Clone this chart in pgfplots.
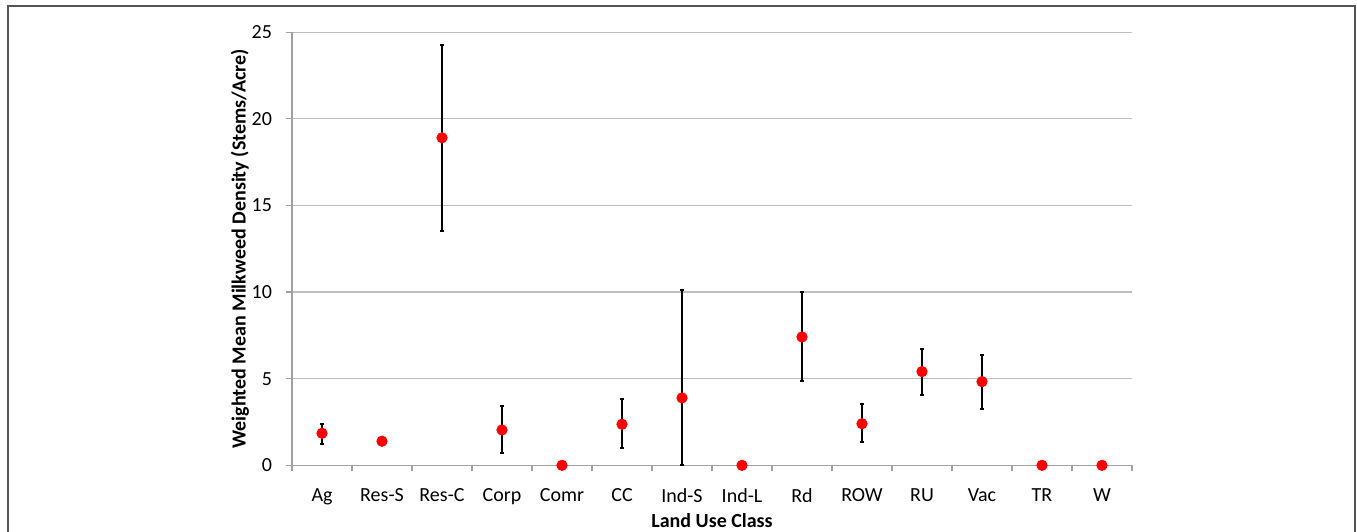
\documentclass[border=0pt]{standalone}
\usepackage{pgfplots}
\pgfplotsset{compat=1.18}
\usepackage{fontspec}
\setmainfont{Carlito}
\definecolor{gridgray}{RGB}{190,190,190}
\definecolor{axgray}{RGB}{160,160,160}
\definecolor{framegray}{RGB}{85,85,85}
\begin{document}
\fontsize{10bp}{12bp}\selectfont
\begin{tikzpicture}
\useasboundingbox (0,0) rectangle (678.5bp,266bp);
\draw[framegray, line width=0.8bp] (4bp,-5bp) -- (4bp,263bp) -- (677.5bp,263bp) -- (677.5bp,-5bp);
\begin{axis}[
  at={(146bp,33.35bp)}, anchor=south west,
  scale only axis, width=420bp, height=216.5bp,
  xmin=-0.5, xmax=13.5, ymin=0, ymax=25,
  axis x line=bottom, axis y line=left,
  axis line style={-, draw=axgray, line width=0.6bp},
  xtick={0,...,13},
  xticklabels={Ag,Res-S,Res-C,Corp,Comr,CC,Ind-S,Ind-L,Rd,ROW,RU,Vac,TR,W},
  minor xtick={-0.5,0.5,...,13.5},
  x tick style={draw=axgray, line width=0.6bp},
  major x tick style={draw=none},
  tick align=outside,
  major tick length=3bp, minor tick length=3bp,
  ytick={0,5,...,25},
  y tick style={draw=axgray, line width=0.6bp},
  ymajorgrids, grid style={gridgray, line width=0.6bp},
  xticklabel style={yshift=-5bp},
  yticklabel style={xshift=-3.5bp},
  /pgf/number format/assume math mode=true,
  tick label style={font=\fontsize{10bp}{12bp}\selectfont},
  xlabel={\bfseries Land Use Class},
  ylabel={\bfseries Weighted Mean Milkweed Density (Stems/Acre)},
  every axis x label/.style={at={(axis description cs:0.5,-0.127)}, anchor=center},
  every axis y label/.style={at={(axis description cs:-0.062,0.5)}, rotate=90, anchor=center},
  label style={font=\fontsize{10bp}{12bp}\selectfont\bfseries},
  clip=false,
]
\addplot[
  only marks, mark=*, mark size=2.6bp,
  mark options={fill=red, draw=red},
  error bars/.cd, y dir=both, y explicit,
  error bar style={black, line width=1.1bp},
  error mark options={black, line width=1bp, mark size=0.9bp, rotate=90},
] table[x=x, y=y, y error plus=ep, y error minus=em] {
x  y     ep    em
0  1.85  0.55  0.62
1  1.39  0     0
2  18.91 5.36  5.36
3  2.04  1.38  1.35
4  0     0     0
5  2.37  1.44  1.39
6  3.89  6.23  3.89
7  0     0     0
8  7.41  2.58  2.56
9  2.40  1.14  1.07
10 5.41  1.32  1.33
11 4.83  1.56  1.58
12 0     0     0
13 0     0     0
};
\end{axis}
\end{tikzpicture}
\end{document}
